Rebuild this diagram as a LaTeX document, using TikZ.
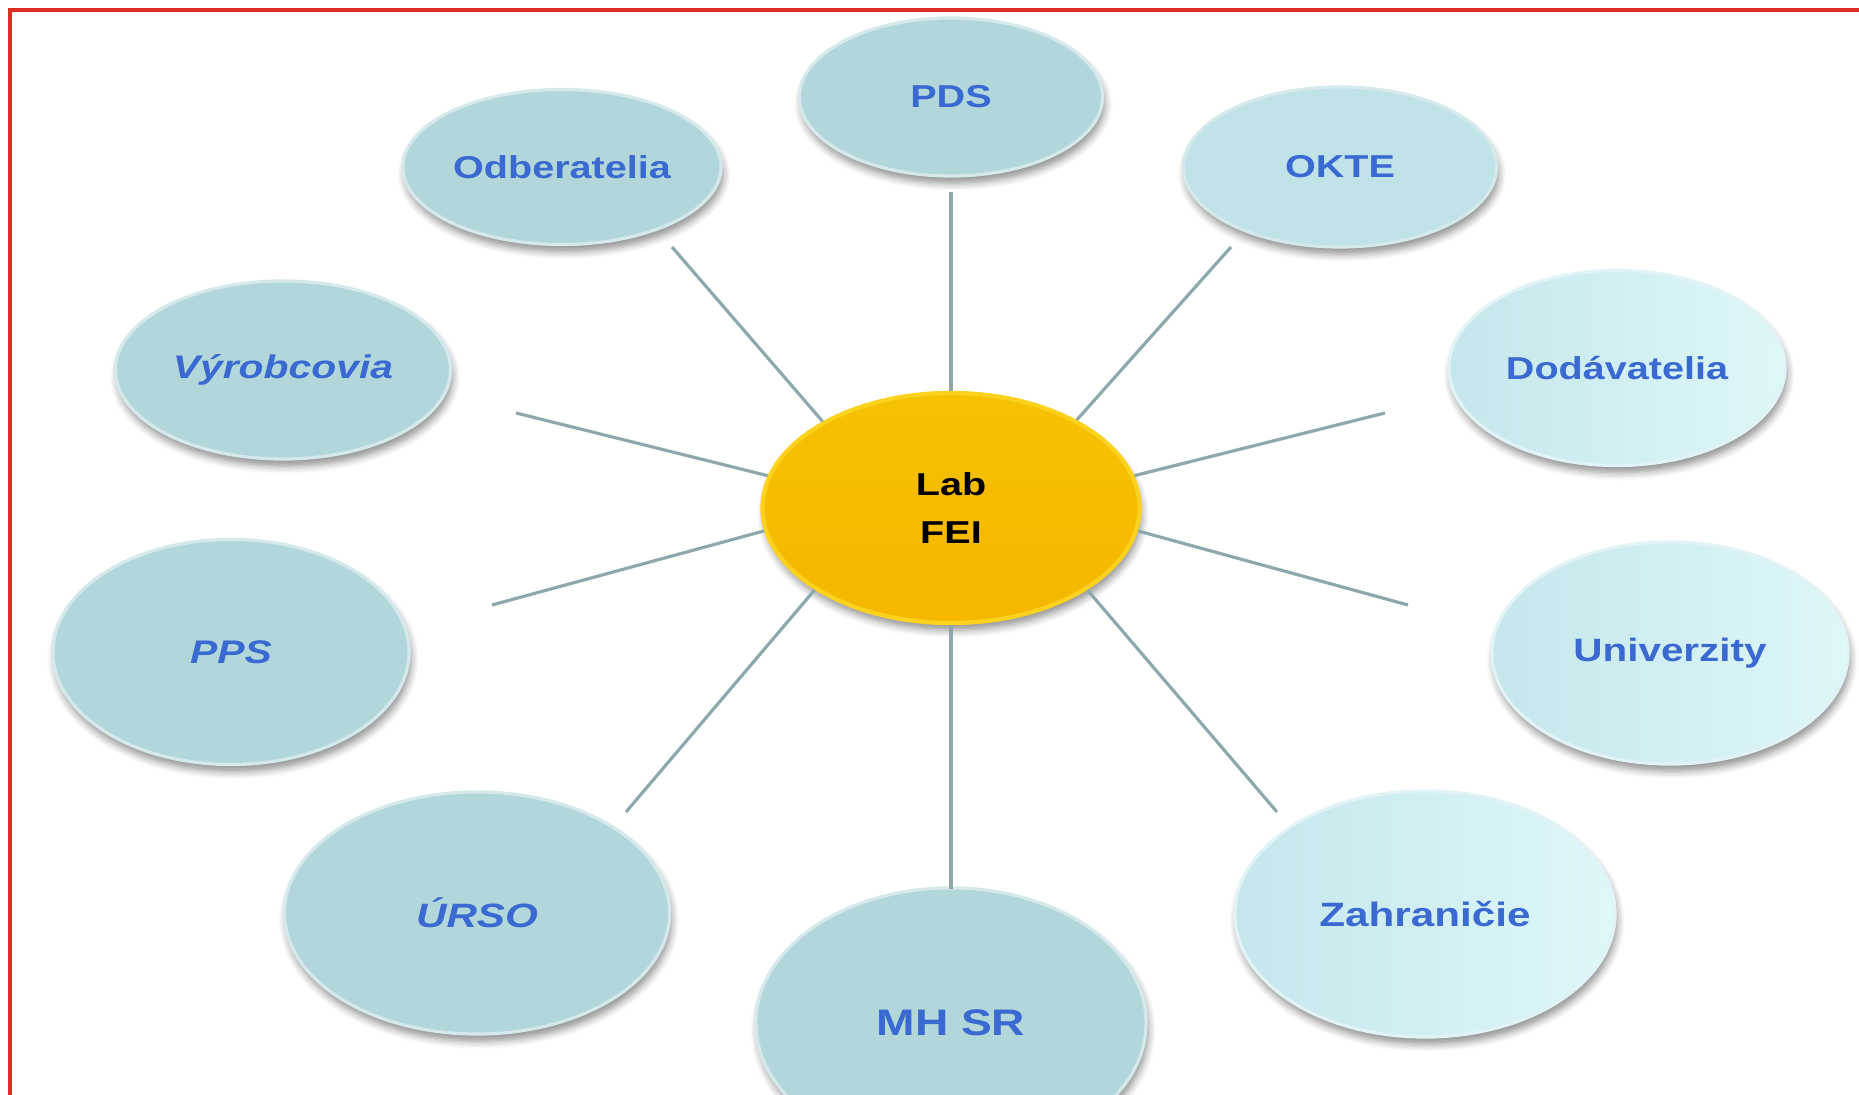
\documentclass[tikz,border=0pt]{standalone}
\usepackage{fontspec}
\setmainfont{Liberation Sans}[FakeStretch=1.25]
\usetikzlibrary{shapes.geometric, shadows.blur}

\definecolor{framered}{RGB}{221,45,32}
\definecolor{discgrey}{RGB}{178,215,219}
\definecolor{disclight}{RGB}{196,231,235}
\definecolor{discpale}{RGB}{222,247,249}
\definecolor{labelblue}{RGB}{58,105,210}
\definecolor{linkgrey}{RGB}{140,168,172}
\definecolor{labgold}{RGB}{245,183,0}
\definecolor{labrim}{RGB}{252,210,30}

\tikzset{
  disc/.style={ellipse, inner sep=0pt, fill=discgrey, draw=white!45!discgrey,
    line width=0.9pt, text=labelblue,
    blur shadow={shadow xshift=0.6pt, shadow yshift=-2pt, shadow blur steps=6, shadow opacity=45},
    font=\fontsize{9}{11}\selectfont\bfseries},
  lightdisc/.style={disc, left color=disclight, right color=discpale, draw=white!50!disclight},
  slanted/.style={font=\fontsize{9.3}{11}\selectfont\bfseries\itshape},
  link/.style={draw=linkgrey, line width=0.9pt}
}

\begin{document}
\begin{tikzpicture}[x=0.01cm, y=-0.01cm]

  \useasboundingbox (0,0) rectangle (1859,1095);
  \clip (0,0) rectangle (1859,1095);

  % --- frame (top and left edge only) ---
  \draw[framered, line width=1.1pt] (10,1100) -- (10,10) -- (1870,10);

  % --- outer discs ---
  \node[disc, minimum width=3.03cm, minimum height=1.58cm] (pds) at (951,97) {PDS};
  \node[disc, minimum width=3.18cm, minimum height=1.55cm] (odb) at (562,167) {Odberatelia};
  \node[disc, fill=disclight!75!discgrey, minimum width=3.13cm, minimum height=1.60cm] (okte) at (1340,167) {OKTE};
  \node[disc, slanted, minimum width=3.35cm, minimum height=1.78cm] (vyr) at (283,370) {Výrobcovia};
  \node[lightdisc, minimum width=3.36cm, minimum height=1.95cm] (dod) at (1617,368) {Dodávatelia};
  \node[disc, slanted, minimum width=3.56cm, minimum height=2.25cm] (pps) at (231,652) {PPS};
  \node[lightdisc, minimum width=3.56cm, minimum height=2.22cm, font=\fontsize{9.2}{11}\selectfont\bfseries] (univ) at (1670,653) {Univerzity};
  \node[disc, slanted, minimum width=3.85cm, minimum height=2.42cm, font=\fontsize{9.6}{11}\selectfont\bfseries\itshape] (urso) at (477,913) {ÚRSO};
  \node[lightdisc, minimum width=3.80cm, minimum height=2.46cm, font=\fontsize{9.6}{11}\selectfont\bfseries] (zahr) at (1425,914) {Zahraničie};
  \node[disc, minimum width=3.90cm, minimum height=2.70cm, font=\fontsize{10.5}{12}\selectfont\bfseries] (mhsr) at (951,1023) {MH SR};

  % --- centre disc ---
  \node[ellipse, inner sep=0pt, minimum width=3.77cm, minimum height=2.30cm,
    top color=labgold!85!yellow, bottom color=labgold, draw=labrim, line width=1.2pt,
    blur shadow={shadow xshift=0.6pt, shadow yshift=-2pt, shadow blur steps=6, shadow opacity=45},
    align=center, font=\fontsize{9}{13.4}\selectfont\bfseries] (lab) at (951,508) {Lab\\FEI};

  % --- free ends of the spokes ---
  \coordinate (pds-end)  at (951,192);
  \coordinate (odb-end)  at (672,247);
  \coordinate (okte-end) at (1231,247);
  \coordinate (vyr-end)  at (516,413);
  \coordinate (dod-end)  at (1385,413);
  \coordinate (pps-end)  at (492,605);
  \coordinate (univ-end) at (1408,605);
  \coordinate (urso-end) at (626,812);
  \coordinate (zahr-end) at (1277,812);
  \coordinate (mhsr-end) at (951,889);

  % --- spokes ---
  \foreach \ang/\tgt in {90/pds, 146/odb, 35/okte, 170/vyr, 10/dod,
                         187/pps, 353/univ, 211/urso, 329/zahr, 270/mhsr}
    \draw[link] (lab.\ang) -- (\tgt-end);

\end{tikzpicture}
\end{document}
